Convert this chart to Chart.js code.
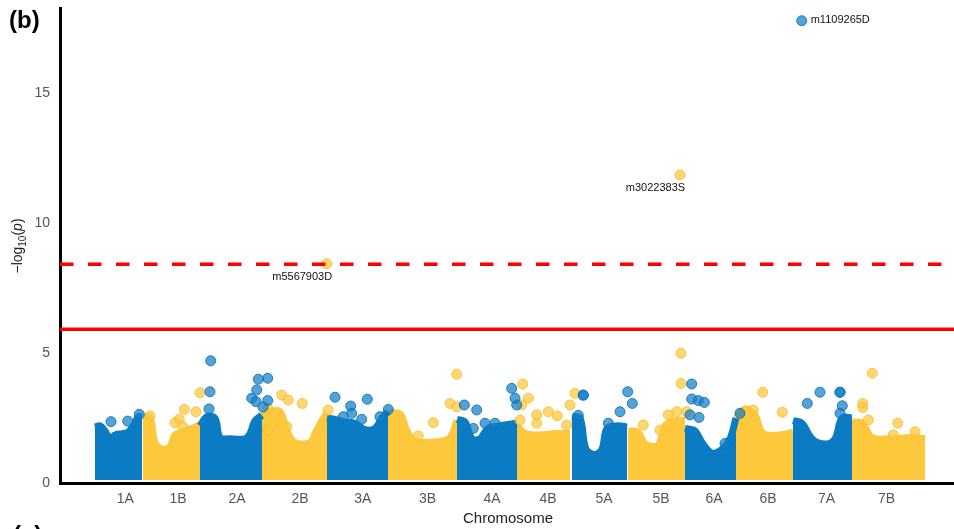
<!DOCTYPE html>
<html>
<head>
<meta charset="utf-8">
<script src="https://cdn.jsdelivr.net/npm/chart.js@4/dist/chart.umd.min.js"></script>
<style>
  html, body { margin: 0; padding: 0; background: #fff; }
  canvas { display: block; }
</style>
</head>
<body>
<canvas id="manhattan" width="954" height="529"></canvas>
<script>
// Chromosomes in genome order and the cumulative position of each label
const chromosomes = ['1A','1B','2A','2B','3A','3B','4A','4B','5A','5B','6A','6B','7A','7B'];
const chromCentres = [65.3, 118, 177, 240, 302.8, 367.5, 432, 488, 544, 601, 654, 708, 766.5, 826.5];
const yTicks = [0, 5, 10, 15];

// Upper edge of the dense marker cloud on each chromosome: [cumulative position, -log10(p)]
const cloudTops = [
  [[35,2.15],[40,2.2],[45,2.0],[50,1.7],[55,1.85],[62,1.9],[68,1.95],[75,2.3],[78,2.55],[82,2.55]],
  [[83,2.55],[90,2.5],[95,1.55],[102,1.3],[110,1.4],[115,1.85],[125,2.0],[135,2.15],[140,2.25]],
  [[140,2.2],[147,2.55],[155,2.5],[160,1.75],[170,1.7],[185,1.7],[190,1.9],[195,2.4],[202,2.6]],
  [[202,2.6],[210,2.75],[220,2.75],[227,2.0],[235,1.55],[250,1.55],[255,1.9],[262,2.4],[267,2.7]],
  [[267,2.5],[275,2.45],[285,2.35],[295,2.3],[305,2.05],[315,2.1],[322,2.5],[328,2.75]],
  [[328,2.7],[340,2.65],[347,2.0],[355,1.6],[380,1.6],[390,1.75],[397,2.4]],
  [[397,2.45],[405,2.35],[412,1.7],[420,1.7],[428,2.1],[440,2.2],[457,2.3]],
  [[457,2.2],[465,1.9],[480,1.85],[495,1.9],[510,1.9]],
  [[512,2.55],[520,2.5],[526,1.3],[535,1.1],[542,1.3],[547,2.1],[558,2.2],[567,2.15]],
  [[568,2.0],[578,1.95],[585,1.5],[598,1.45],[605,2.2],[615,2.4],[625,2.4]],
  [[625,2.1],[635,2.0],[643,1.5],[652,1.15],[662,1.3],[670,1.7],[676,2.5]],
  [[676,2.5],[685,2.85],[695,2.6],[703,1.9],[720,1.85],[733,1.95]],
  [[733,2.4],[742,2.3],[752,1.7],[765,1.5],[775,1.7],[782,2.5],[792,2.5]],
  [[792,2.35],[802,2.3],[812,1.75],[830,1.7],[850,1.75],[865,1.7]]
];
const cloudFloor = 0.12;

// Markers standing clear of the cloud on A-genome chromosomes
const blueHits = [
  [51,2.36],[67.7,2.38],[79.3,2.64],
  [150.7,4.7],[150,3.51],[149,2.85],[198.3,3.99],[207.7,4.03],[196.7,3.58],[191.7,3.26],[196,3.13],[207.7,3.17],[203,2.92],
  [275,3.3],[290.7,2.96],[291.7,2.68],[307.3,3.22],[328.3,2.83],[320,2.55],[301.7,2.45],[283.3,2.55],
  [404.3,3.0],[416.7,2.81],[425,2.3],[435,2.3],[451.7,3.64],[456.7,3.0],[455,3.26],[413.3,2.1],
  [523.3,3.38],[523.3,3.38],[567.7,3.51],[572.3,3.06],[560,2.74],[548.3,2.3],[518.3,2.6],
  [631.7,3.81],[631.7,3.23],[638.3,3.17],[644.3,3.1],[630,2.62],[639,2.52],[680,2.68],[665,1.52],
  [760,3.49],[747.3,3.06],[780,3.49],[780,3.49],[782.3,2.97],[780,2.68]
];
// Markers standing clear of the cloud on B-genome chromosomes
const yellowHits = [
  [140,3.47],[124.3,2.83],[136,2.74],[119.3,2.45],[115,2.32],[122.7,2.17],[90,2.58],
  [207.7,2.87],[207.7,2.04],[221.7,3.38],[228.3,3.19],[242.3,3.06],[226.7,2.17],[268,2.8],
  [373.3,2.32],[390,3.06],[396.7,2.93],[396.7,4.18],[358.3,1.81],
  [462.7,3.81],[468.3,3.26],[461.7,3.0],[460,2.42],[476.7,2.62],[488.3,2.74],[497.3,2.58],[476.7,2.3],[510,3.0],[515,3.45],[506.7,2.23],
  [621,4.99],[621,3.83],[583.3,2.23],[608.3,2.62],[616.7,2.74],[600,2.04],[626.7,2.74],
  [702.7,3.49],[722.3,2.72],[693.3,2.81],
  [812.3,4.22],[802.7,3.06],[802.7,2.9],[837.7,2.3],[855,1.97],[808.3,2.42],[833.3,1.85]
];

// Named lead markers
const leadNames = ['m1109265D', 'm3022383S', 'm5567903D'];
const leadChrom = ['7A', '5B', '2B'];
const leadPos = [741.7, 620, 266.7];
const leadLogP = [17.78, 11.85, 8.43];

// Significance thresholds (-log10 p)
const thresholdStrict = 8.41;
const thresholdSuggestive = 5.91;

const xSpan = 894;
const yTop = 18.27;

const BLUE = '#0b7cc3';
const YELLOW = '#fdc83c';
const BLUE_HIT = 'rgba(18,128,200,0.72)';
const BLUE_HIT_EDGE = 'rgba(10,110,185,0.85)';
const YELLOW_HIT = 'rgba(253,200,60,0.72)';
const YELLOW_HIT_EDGE = 'rgba(245,190,50,0.85)';
const FONT = "'Liberation Sans', Arial, Helvetica, sans-serif";

const toXY = a => ({ x: a[0], y: a[1] });
const isA = c => c.endsWith('A');

const datasets = [];

// threshold lines
datasets.push({
  type: 'line', order: 1,
  data: [{ x: 0, y: thresholdStrict }, { x: xSpan, y: thresholdStrict }],
  borderColor: '#ff0000', borderWidth: 3.5, borderDash: [13.5, 14.5],
  pointRadius: 0, fill: false
});
datasets.push({
  type: 'line', order: 1,
  data: [{ x: 0, y: thresholdSuggestive }, { x: xSpan, y: thresholdSuggestive }],
  borderColor: '#ff0000', borderWidth: 3.5,
  pointRadius: 0, fill: false
});

// lead markers
leadNames.forEach((n, i) => {
  const a = isA(leadChrom[i]);
  datasets.push({
    type: 'scatter', order: 2,
    data: [{ x: leadPos[i], y: leadLogP[i] }],
    pointRadius: 5, pointBorderWidth: 1,
    backgroundColor: a ? BLUE_HIT : YELLOW_HIT,
    borderColor: a ? BLUE_HIT_EDGE : YELLOW_HIT_EDGE
  });
});

// scattered markers above the cloud
datasets.push({
  type: 'scatter', order: 3, data: blueHits.map(toXY),
  pointRadius: 5, pointBorderWidth: 1,
  backgroundColor: BLUE_HIT, borderColor: BLUE_HIT_EDGE
});
datasets.push({
  type: 'scatter', order: 3, data: yellowHits.map(toXY),
  pointRadius: 5, pointBorderWidth: 1,
  backgroundColor: YELLOW_HIT, borderColor: YELLOW_HIT_EDGE
});

// dense marker cloud of each chromosome
cloudTops.forEach((pts, i) => {
  const col = isA(chromosomes[i]) ? BLUE : YELLOW;
  datasets.push({
    type: 'line', order: 4 + (i % 2),
    data: pts.map(toXY),
    borderColor: col, backgroundColor: col,
    borderWidth: 7, borderJoinStyle: 'round', borderCapStyle: 'butt',
    tension: 0.35, pointRadius: 0,
    fill: { value: cloudFloor }
  });
});

const annotate = {
  id: 'annotate',
  afterDatasetsDraw(chart) {
    const { ctx, scales: { x, y } } = chart;
    ctx.save();
    ctx.fillStyle = '#111';
    ctx.font = '11px ' + FONT;
    ctx.textBaseline = 'middle';
    leadNames.forEach((n, i) => {
      const px = x.getPixelForValue(leadPos[i]);
      const py = y.getPixelForValue(leadLogP[i]);
      if (i === 0) {
        ctx.textAlign = 'left';
        ctx.fillText(n, px + 9, py - 1);
      } else {
        ctx.textAlign = 'center';
        ctx.fillText(n, px - 24.5, py + 13);
      }
    });
    ctx.restore();
  },
  afterDraw(chart) {
    const { ctx } = chart;
    ctx.save();
    // panel letters
    ctx.fillStyle = '#000';
    ctx.font = 'bold 24px ' + FONT;
    ctx.textAlign = 'left';
    ctx.textBaseline = 'alphabetic';
    ctx.fillText('(b)', 9, 28);
    ctx.fillText('(c)', 13, 543);

    // x title
    ctx.fillStyle = '#222';
    ctx.font = '15px ' + FONT;
    ctx.textAlign = 'center';
    ctx.fillText('Chromosome', 508, 523);

    // y title with subscript and italic p
    ctx.translate(22, 246);
    ctx.rotate(-Math.PI / 2);
    const parts = [
      { t: '\u2212log', f: '14px ' + FONT, dy: 0 },
      { t: '10', f: '10px ' + FONT, dy: 4 },
      { t: '(', f: '14px ' + FONT, dy: 0 },
      { t: 'p', f: 'italic 14px ' + FONT, dy: 0 },
      { t: ')', f: '14px ' + FONT, dy: 0 }
    ];
    let total = 0;
    parts.forEach(p => { ctx.font = p.f; p.w = ctx.measureText(p.t).width; total += p.w; });
    let cx = -total / 2;
    ctx.textAlign = 'left';
    parts.forEach(p => {
      ctx.font = p.f;
      ctx.fillText(p.t, cx, p.dy);
      cx += p.w;
    });
    ctx.restore();
  }
};

new Chart(document.getElementById('manhattan'), {
  type: 'scatter',
  data: { datasets },
  options: {
    responsive: false,
    devicePixelRatio: 1,
    animation: false,
    layout: { autoPadding: false, padding: { top: 8, right: 0, left: 0, bottom: 0 } },
    plugins: { legend: { display: false }, tooltip: { enabled: false } },
    scales: {
      x: {
        type: 'linear', min: 0, max: xSpan,
        afterBuildTicks: ax => { ax.ticks = chromCentres.map(v => ({ value: v })); },
        afterFit: ax => { ax.height = 46; ax.paddingLeft = 0; ax.paddingRight = 0; },
        grid: { display: false, drawTicks: false },
        border: { display: true, color: '#000', width: 3 },
        ticks: {
          autoSkip: false, maxRotation: 0, minRotation: 0, padding: 8,
          color: '#555', font: { size: 14, family: FONT },
          callback: (v, i) => chromosomes[i]
        }
      },
      y: {
        type: 'linear', min: 0, max: yTop,
        afterBuildTicks: ax => { ax.ticks = yTicks.map(v => ({ value: v })); },
        afterFit: ax => { ax.width = 60; ax.paddingTop = 0; ax.paddingBottom = 0; },
        grid: { display: false, drawTicks: false },
        border: { display: true, color: '#000', width: 3 },
        ticks: {
          padding: 10, color: '#555', font: { size: 14, family: FONT }
        }
      }
    }
  },
  plugins: [annotate]
});
</script>
</body>
</html>
